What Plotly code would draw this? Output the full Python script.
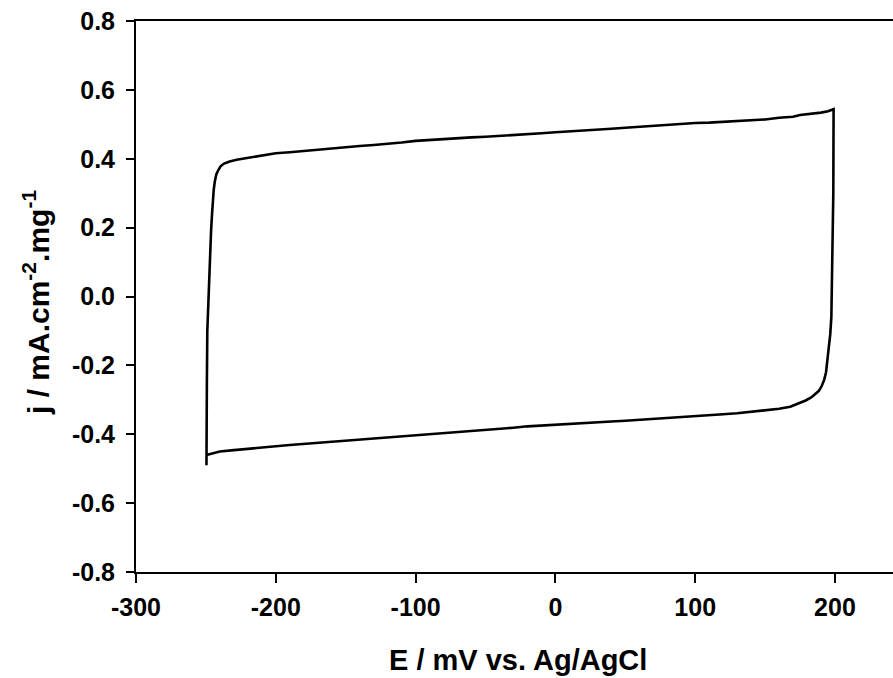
import plotly.graph_objects as go

# Cyclic voltammogram: potential (mV vs Ag/AgCl) and current density (mA cm-2 mg-1)
E_forward = [-249.6, -249.6, -249.3, -249.0, -248.2, -247.5, -247.0, -246.3, -245.6, -245.0,
             -244.4, -243.6, -242.5, -241.0, -239.5, -237.0, -233.0, -228.0, -222.0, -215.0,
             -208.0, -200.0, -190.0, -180.0, -170.0, -160.0, -150.0, -140.0, -130.0, -120.0,
             -110.0, -100.0, -90.0, -80.0, -70.0, -60.0, -50.0, -40.0, -30.0, -20.0,
             -10.0, 0.0, 10.0, 20.0, 30.0, 40.0, 50.0, 60.0, 70.0, 80.0,
             90.0, 100.0, 110.0, 120.0, 130.0, 140.0, 150.0, 160.0, 170.0, 175.0,
             180.0, 185.0, 190.0, 195.0, 199.0]
j_forward = [-0.490, -0.400, -0.250, -0.100, 0.000, 0.080, 0.130, 0.190, 0.240, 0.280,
             0.310, 0.335, 0.355, 0.368, 0.378, 0.386, 0.392, 0.397, 0.401, 0.406,
             0.410, 0.416, 0.419, 0.423, 0.425, 0.430, 0.433, 0.437, 0.440, 0.443,
             0.447, 0.452, 0.455, 0.457, 0.459, 0.462, 0.464, 0.466, 0.469, 0.471,
             0.474, 0.477, 0.479, 0.482, 0.484, 0.487, 0.490, 0.493, 0.495, 0.498,
             0.501, 0.504, 0.505, 0.507, 0.509, 0.511, 0.514, 0.519, 0.522, 0.527,
             0.529, 0.531, 0.534, 0.538, 0.544]

E_reverse = [199.0, 198.8, 198.4, 198.0, 197.4, 196.6, 195.7, 194.8, 193.6, 192.2,
             190.5, 188.5, 186.0, 183.0, 179.0, 174.0, 168.0, 160.0, 150.0, 140.0,
             130.0, 120.0, 110.0, 100.0, 90.0, 80.0, 70.0, 60.0, 50.0, 40.0,
             30.0, 20.0, 10.0, 0.0, -10.0, -20.0, -30.0, -40.0, -50.0, -60.0,
             -70.0, -80.0, -90.0, -100.0, -110.0, -120.0, -130.0, -140.0, -150.0, -160.0,
             -170.0, -180.0, -190.0, -200.0, -210.0, -220.0, -230.0, -240.0, -246.0, -249.6]
j_reverse = [0.544, 0.300, 0.150, 0.020, -0.060, -0.110, -0.150, -0.190, -0.220, -0.243,
             -0.260, -0.274, -0.284, -0.293, -0.302, -0.311, -0.320, -0.326, -0.331, -0.335,
             -0.339, -0.342, -0.345, -0.348, -0.351, -0.354, -0.356, -0.358, -0.361, -0.363,
             -0.365, -0.367, -0.369, -0.371, -0.374, -0.377, -0.381, -0.384, -0.387, -0.390,
             -0.393, -0.396, -0.400, -0.403, -0.406, -0.410, -0.413, -0.416, -0.419, -0.422,
             -0.425, -0.428, -0.431, -0.435, -0.438, -0.442, -0.446, -0.450, -0.455, -0.460]

E_all = E_forward + E_reverse
j_all = j_forward + j_reverse

x_ticks = [-300, -200, -100, 0, 100, 200]
y_ticks = [-0.8, -0.6, -0.4, -0.2, 0.0, 0.2, 0.4, 0.6, 0.8]
x_title = "E / mV vs. Ag/AgCl"
y_title = "j / mA.cm<sup>-2</sup>.mg<sup>-1</sup>"

FONT = "Liberation Sans, Arial, sans-serif"

fig = go.Figure()
fig.add_trace(go.Scatter(x=E_all, y=j_all, mode="lines",
                         line=dict(color="black", width=2.6), showlegend=False))

fig.update_layout(
    width=893, height=678,
    margin=dict(l=136, r=0, t=21, b=106),
    paper_bgcolor="white", plot_bgcolor="white",
    font=dict(family=FONT, color="black"),
    xaxis=dict(range=[-300, 241.5], tickvals=x_ticks, ticktext=[str(v) for v in x_ticks],
               showgrid=False, zeroline=False, showline=True, mirror=True,
               linecolor="black", linewidth=2, ticks="outside", ticklen=9,
               tickwidth=2, tickcolor="black", ticklabelstandoff=3,
               tickfont=dict(family=FONT, size=25, color="black", weight="bold")),
    yaxis=dict(range=[-0.8, 0.8], tickvals=y_ticks, ticktext=[f"{v:.1f}" for v in y_ticks],
               showgrid=False, zeroline=False, showline=True, mirror=False,
               linecolor="black", linewidth=2, ticks="outside", ticklen=8,
               tickwidth=2, tickcolor="black", ticklabelstandoff=6,
               tickfont=dict(family=FONT, size=25, color="black", weight="bold")),
    annotations=[
        dict(text=x_title, xref="paper", yref="paper", x=(518 - 136) / 757, y=(572 - 660) / 551,
             xanchor="center", yanchor="middle", showarrow=False,
             font=dict(family=FONT, size=29, color="black", weight="bold")),
        dict(text=y_title, xref="paper", yref="paper", x=(36 - 136) / 757, y=(572 - 302) / 551,
             xanchor="center", yanchor="middle", textangle=-90, showarrow=False,
             font=dict(family=FONT, size=30, color="black", weight="bold")),
    ],
)

fig.write_html("out.html", config={"displayModeBar": False},
               post_script="document.body.style.margin='0';document.body.style.overflow='hidden';")
